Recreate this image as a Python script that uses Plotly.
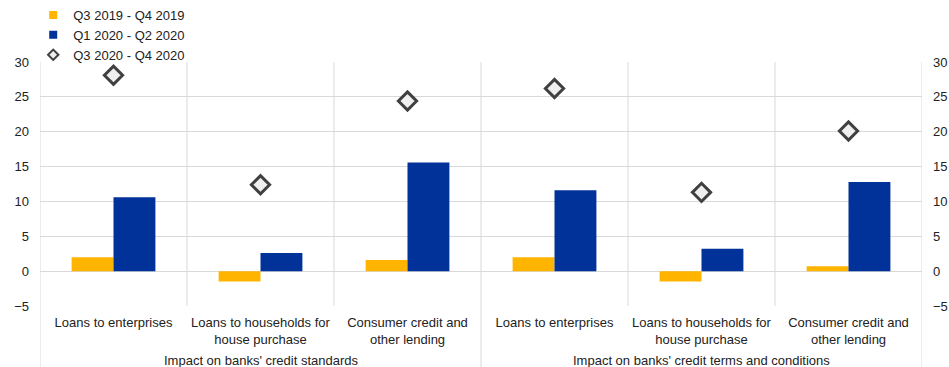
import plotly.graph_objects as go

categories = ["Loans to enterprises", "Loans to households for<br>house purchase", "Consumer credit and<br>other lending",
              "Loans to enterprises", "Loans to households for<br>house purchase", "Consumer credit and<br>other lending"]
groups = ["Impact on banks' credit standards", "Impact on banks' credit terms and conditions"]
series_names = ["Q3 2019 - Q4 2019", "Q1 2020 - Q2 2020", "Q3 2020 - Q4 2020"]
q3_2019 = [2.0, -1.5, 1.6, 2.0, -1.5, 0.7]
q1_2020 = [10.6, 2.6, 15.6, 11.6, 3.2, 12.8]
q3_2020 = [28.1, 12.4, 24.4, 26.2, 11.3, 20.1]
yticks = [-5, 0, 5, 10, 15, 20, 25, 30]

xpos = list(range(len(categories)))
FONT = "Liberation Sans, Arial, sans-serif"
GRID = "#d9d9d9"
YELLOW = "#FFB400"
BLUE = "#003299"
DARK = "#404040"

fig = go.Figure()
fig.add_trace(go.Bar(x=xpos, y=q3_2019, name=series_names[0], marker_color=YELLOW, marker_line_width=0,
                     showlegend=False))
fig.add_trace(go.Bar(x=xpos, y=q1_2020, name=series_names[1], marker_color=BLUE, marker_line_width=0,
                     showlegend=False))
fig.add_trace(go.Scatter(x=xpos, y=q3_2020, name=series_names[2], mode="markers", showlegend=False,
                         marker=dict(symbol="diamond", size=14, color="#efefef",
                                     line=dict(color=DARK, width=3))))
# legend entries with small symbols
fig.add_trace(go.Scatter(x=[None], y=[None], name=series_names[0], mode="markers",
                         marker=dict(symbol="square", size=8, color=YELLOW)))
fig.add_trace(go.Scatter(x=[None], y=[None], name=series_names[1], mode="markers",
                         marker=dict(symbol="square", size=8, color=BLUE)))
fig.add_trace(go.Scatter(x=[None], y=[None], name=series_names[2], mode="markers",
                         marker=dict(symbol="diamond", size=8, color="#efefef", line=dict(color=DARK, width=2))))
# invisible trace for right axis
fig.add_trace(go.Scatter(x=[xpos[0]], y=[None], yaxis="y2", showlegend=False, hoverinfo="skip"))

shapes = []
n = len(categories)
for i in range(n + 1):
    b = i - 0.5
    full = (i % 3 == 0)
    shapes.append(dict(type="line", xref="x", yref="paper", x0=b, x1=b,
                       y0=(-0.26 if full else 0), y1=1, line=dict(color=GRID, width=1), layer="below"))

annotations = []
for g, name in enumerate(groups):
    annotations.append(dict(x=g * 3 + 1, y=-0.186, xref="x", yref="paper", text=name, showarrow=False,
                            font=dict(size=13, color="#222"), yanchor="top"))

fig.update_layout(
    width=949, height=367,
    margin=dict(l=40, r=27, t=62, b=61, autoexpand=False),
    paper_bgcolor="white", plot_bgcolor="white",
    font=dict(family=FONT, size=13, color="#222"),
    barmode="group", bargap=0.43, bargroupgap=0,
    showlegend=True,
    legend=dict(x=0.035, y=1.01, xref="container", yref="container", xanchor="left", yanchor="top",
                font=dict(size=13, color="#222"), bgcolor="rgba(0,0,0,0)", itemwidth=30, tracegroupgap=0),
    xaxis=dict(range=[-0.5, n - 0.5], tickvals=xpos, ticktext=categories, showgrid=False, tickangle=0,
               zeroline=False, showline=False, ticks="", tickfont=dict(size=13), ticklabelstandoff=7),
    yaxis=dict(range=[-5, 30], tickvals=yticks, showgrid=True, gridcolor=GRID, zeroline=True,
               zerolinecolor=GRID, zerolinewidth=1, showline=False, ticks="", ticklabelstandoff=10,
               tickfont=dict(size=13)),
    yaxis2=dict(range=[-5, 30], tickvals=yticks, overlaying="y", side="right", showgrid=False,
                zeroline=False, showline=False, ticks="", ticklabelstandoff=10, tickfont=dict(size=13)),
    shapes=shapes, annotations=annotations,
)
fig.write_html("out.html")
